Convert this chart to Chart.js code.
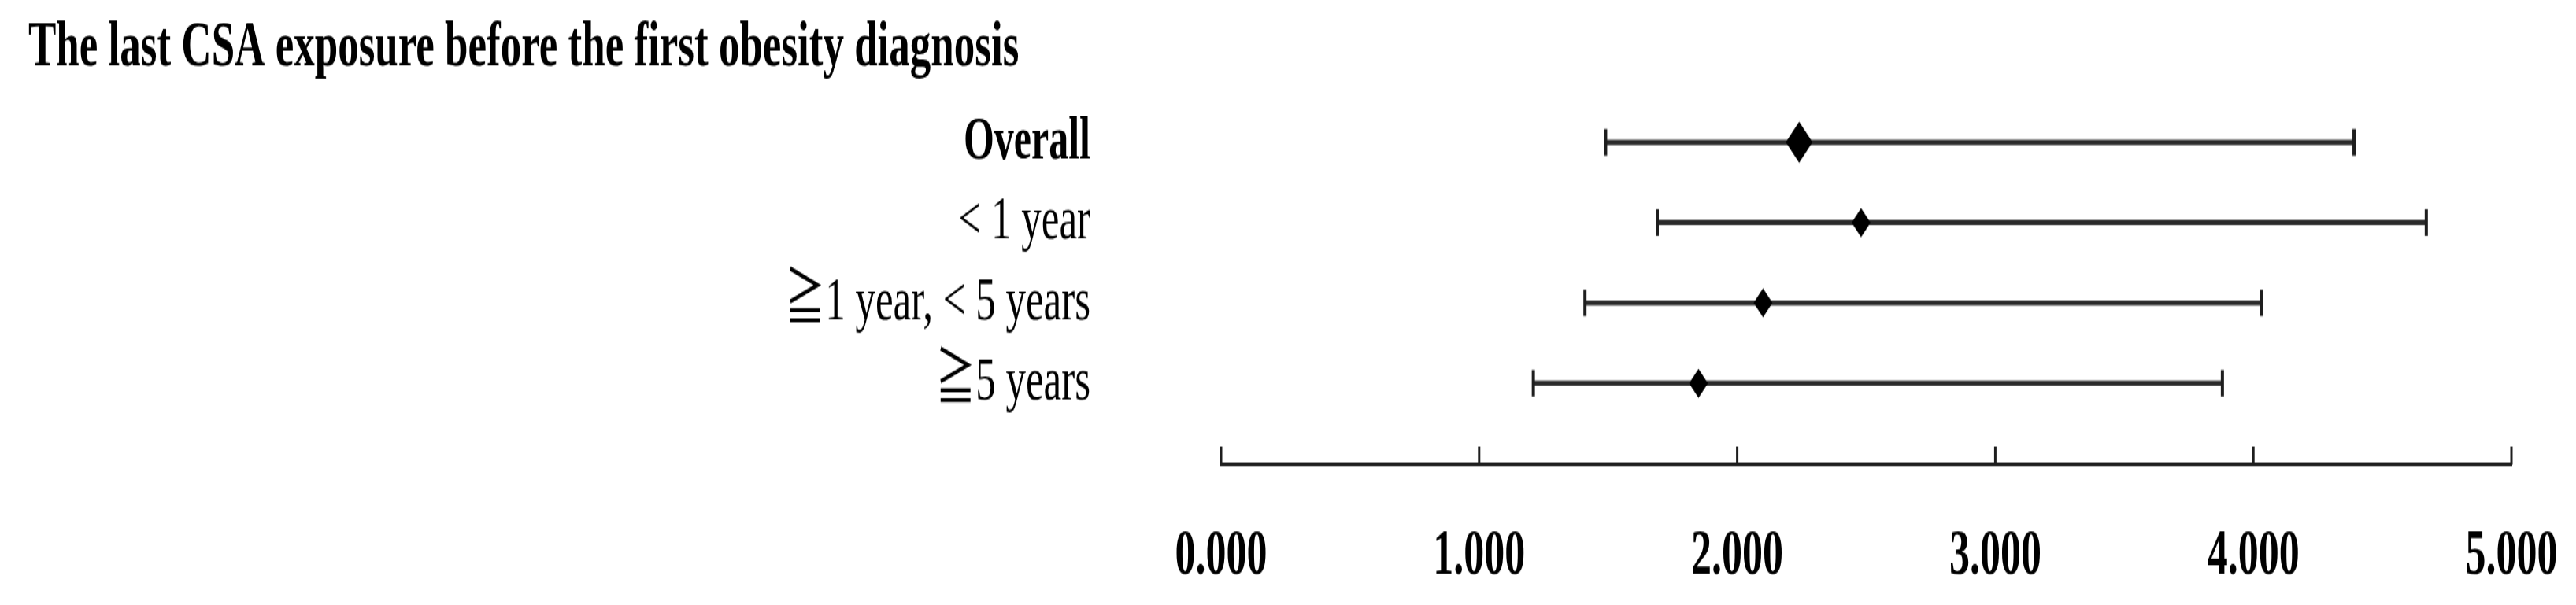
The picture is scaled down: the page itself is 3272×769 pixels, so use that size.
<!DOCTYPE html>
<html>
<head>
<meta charset="utf-8">
<script src="https://cdn.jsdelivr.net/npm/chart.js@4/dist/chart.umd.min.js"></script>
<style>
  html, body { margin: 0; padding: 0; background: #fff; overflow: hidden; }
  #c { position: absolute; left: 0; top: 0; transform: scale(1, 1.538); transform-origin: 0 0; }
</style>
</head>
<body>
<canvas id="c" width="3272" height="500"></canvas>
<script>
const titleText = 'The last CSA exposure before the first obesity diagnosis';
const categories = ['Overall', '< 1 year', '\u22671 year, < 5 years', '\u22675 years'];
const estimates = [2.24, 2.48, 2.10, 1.85];
const lowerCI = [1.49, 1.69, 1.41, 1.21];
const upperCI = [4.39, 4.67, 4.03, 3.88];
const xTicks = [0, 1, 2, 3, 4, 5];

const SERIF = "'Liberation Serif', 'Times New Roman', 'Noto Sans CJK TC', serif";

const capsPlugin = {
  id: 'caps',
  afterDatasetsDraw(chart) {
    const ctx = chart.ctx;
    const xs = chart.scales.x, ys = chart.scales.y;
    ctx.save();
    ctx.strokeStyle = '#1e1e1e';
    ctx.lineWidth = 4;
    for (let i = 0; i < categories.length; i++) {
      const y = ys.getPixelForValue(i);
      [lowerCI[i], upperCI[i]].forEach(v => {
        const x = xs.getPixelForValue(v);
        ctx.beginPath();
        ctx.moveTo(x, y - 11);
        ctx.lineTo(x, y + 11);
        ctx.stroke();
      });
    }
    // upward tick marks on the x axis
    ctx.lineWidth = 3;
    xs.ticks.forEach((t, i) => {
      const x = xs.getPixelForTick(i);
      ctx.beginPath();
      ctx.moveTo(x, xs.top + 1);
      ctx.lineTo(x, xs.top - 14);
      ctx.stroke();
    });
    ctx.restore();
  }
};

new Chart(document.getElementById('c'), {
  data: {
    labels: [...categories, ''],
    datasets: [
      {
        type: 'bar',
        indexAxis: 'y',
        data: lowerCI.map((l, i) => [l, upperCI[i]]),
        backgroundColor: '#2a2a2a',
        borderWidth: 0,
        barThickness: 3.5,
        clip: false,
        order: 2
      },
      {
        type: 'scatter',
        data: estimates.map((v, i) => ({ x: v, y: categories[i] })),
        pointStyle: 'rectRot',
        pointRadius: [17, 12, 12, 12],
        pointHoverRadius: [17, 12, 12, 12],
        backgroundColor: '#000',
        borderColor: '#000',
        borderWidth: 0,
        clip: false,
        order: 1
      }
    ]
  },
  options: {
    responsive: false,
    maintainAspectRatio: false,
    devicePixelRatio: 1,
    animation: false,
    events: [],
    layout: { autoPadding: false, padding: { left: 36, right: 82, top: 0, bottom: 0 } },
    plugins: {
      legend: { display: false },
      tooltip: { enabled: false },
      title: {
        display: true,
        text: titleText,
        align: 'start',
        color: '#000',
        font: { family: SERIF, size: 53, weight: 'bold', lineHeight: 1.2 },
        padding: { top: 9, bottom: 45 }
      }
    },
    scales: {
      x: {
        type: 'linear',
        min: 0,
        max: 5,
        afterBuildTicks(scale) { scale.ticks = xTicks.map(v => ({ value: v })); },
        afterFit(scale) { scale.height = 117; scale.paddingLeft = 0; scale.paddingRight = 0; },
        grid: { display: false, drawTicks: false },
        border: { display: true, color: '#1e1e1e', width: 3 },
        ticks: {
          color: '#000',
          padding: 46,
          maxRotation: 0,
          autoSkip: false,
          font: { family: SERIF, size: 52, weight: 'bold', lineHeight: 1.2 },
          callback: v => Number(v).toFixed(3)
        }
      },
      y: {
        type: 'category',
        offset: false,
        afterFit(scale) { scale.width = 1515; scale.paddingTop = 0; scale.paddingBottom = 0; },
        grid: { display: false, drawTicks: false },
        border: { display: false },
        ticks: {
          color: '#000',
          padding: 166,
          autoSkip: false,
          font: (ctx) => ({ family: SERIF, size: ctx.index === 0 ? 50 : 51, weight: ctx.index === 0 ? 'bold' : 'normal', lineHeight: 1.2 })
        }
      }
    }
  },
  plugins: [capsPlugin]
});
</script>
</body>
</html>
